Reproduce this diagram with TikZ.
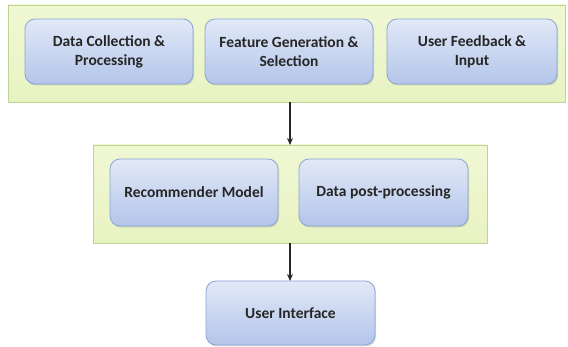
\documentclass[tikz,border=0pt]{standalone}
\usepackage{fontspec}
\setmainfont{Carlito}
\usetikzlibrary{shadows,arrows.meta}
\definecolor{panelfill}{HTML}{E8F3C2}
\definecolor{panelfilltop}{HTML}{F0F8D4}
\definecolor{panelline}{HTML}{BFD494}
\definecolor{boxtop}{HTML}{E2E9F7}
\definecolor{boxbottom}{HTML}{B3C5EA}
\definecolor{boxline}{HTML}{8AA6D4}
\definecolor{txt}{HTML}{262626}
\tikzset{
  panel/.style={draw=panelline, line width=0.8pt, top color=panelfilltop, bottom color=panelfill,
    drop shadow={shadow xshift=1pt, shadow yshift=-1.5pt, opacity=0.25}},
  stagebox/.style={draw=boxline, line width=0.8pt, rounded corners=10pt,
    top color=boxtop, bottom color=boxbottom,
    drop shadow={shadow xshift=1pt, shadow yshift=-1.5pt, opacity=0.3}},
  label/.style={text=txt, font=\bfseries\fontsize{15.5}{19}\selectfont, align=center},
  flow/.style={-{Stealth[length=7pt,width=6pt]}, line width=1.4pt, draw=black!85}
}
\begin{document}
\begin{tikzpicture}[x=1pt,y=1pt]
\useasboundingbox (0,0) rectangle (568,347);
% input stage
\draw[panel] (8,245) rectangle (565,342);
\draw[stagebox] (25,263) rectangle (193,328);
\node[label] (dc) at (109,295) {Data Collection \&\\Processing};
\draw[stagebox] (205,263) rectangle (373,328);
\node[label] (fg) at (289,295) {Feature Generation \&\\Selection};
\draw[stagebox] (387,263) rectangle (557,328);
\node[label] (uf) at (472,295) {User Feedback \&\\Input};
% model stage
\draw[panel] (93,104) rectangle (487,202);
\draw[stagebox] (110,121) rectangle (278,188);
\node[label] (rm) at (194,154.5) {Recommender Model};
\draw[stagebox] (299,121) rectangle (468,188);
\node[label] (dp) at (383.5,154.5) {Data post-processing};
% output
\draw[stagebox] (206,2) rectangle (375,66);
\node[label] (ui) at (290.5,34) {User Interface};
% connectors between stages
\coordinate (p1b) at (290,245);
\coordinate (p2t) at (290,202);
\coordinate (p2b) at (290,104);
\coordinate (uit) at (290,66);
\draw[flow] (p1b) -- (p2t);
\draw[flow] (p2b) -- (uit);
\end{tikzpicture}
\end{document}
